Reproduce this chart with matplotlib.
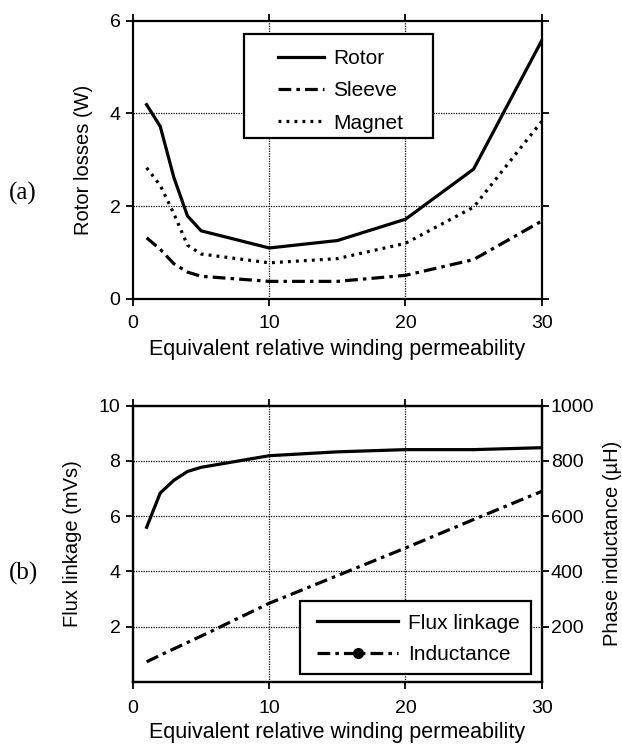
import matplotlib
matplotlib.use("Agg")
import matplotlib.pyplot as plt
from matplotlib.lines import Line2D
from matplotlib.patches import Rectangle

plt.rcParams['font.family'] = ['Liberation Sans', 'DejaVu Sans']

# ---- data ----
mu = [1, 2, 3, 4, 5, 10, 15, 20, 25, 30]
rotor = [4.19, 3.72, 2.62, 1.79, 1.47, 1.10, 1.26, 1.72, 2.80, 5.57]
sleeve = [1.32, 1.07, 0.76, 0.58, 0.49, 0.38, 0.38, 0.51, 0.85, 1.68]
magnet = [2.83, 2.45, 1.84, 1.16, 0.97, 0.78, 0.87, 1.20, 1.98, 3.83]
flux = [5.60, 6.84, 7.30, 7.62, 7.77, 8.19, 8.33, 8.41, 8.41, 8.48]
induct = [73, 97, 120, 143, 166, 285, 385, 485, 588, 690]

xticks = [0, 10, 20, 30]
yticks_a = [0, 2, 4, 6]
yticks_b = [2, 4, 6, 8, 10]
yticks_b2 = [200, 400, 600, 800, 1000]

TFS = 14     # tick labels
YFS = 14.5   # y labels
XFS = 15.5   # x labels
LFS = 15     # legend
fig = plt.figure(figsize=(6.22, 7.46), dpi=100)

W, H = 622, 746
def rect(l, r, t, b):
    return [l / W, 1 - b / H, (r - l) / W, (b - t) / H]

grid_kw = dict(color='black', linestyle=(0, (1, 1)), linewidth=0.9)
DASHDOT = (4, 1.6, 1.1, 1.6)

def style(ax):
    for s in ax.spines.values():
        s.set_linewidth(1.6)
    ax.tick_params(direction='out', length=5, width=1.3, labelsize=TFS,
                   top=True, right=True)
    ax.tick_params(axis='x', pad=6.7)
    ax.tick_params(axis='y', pad=4)

def boxed_legend(ax, handles, labels, box, anchor, loc, hl, hp, ls):
    x0, y0, x1, y1 = box
    ax.add_patch(Rectangle((x0, y0), x1 - x0, y1 - y0, transform=ax.transAxes,
                           facecolor='white', edgecolor='black', lw=1.6,
                           zorder=4, clip_on=False))
    leg = ax.legend(handles, labels, loc=loc, bbox_to_anchor=anchor,
                    fontsize=LFS, frameon=False, numpoints=1,
                    handlelength=hl, handletextpad=hp, labelspacing=ls,
                    borderpad=0, borderaxespad=0)
    leg.set_zorder(5)
    return leg

# ---- (a) ----
ax1 = fig.add_axes(rect(133, 541.7, 20.7, 299))
l_r, = ax1.plot(mu, rotor, color='black', lw=2.3)
l_s, = ax1.plot(mu, sleeve, color='black', lw=2.3, dashes=DASHDOT)
l_m, = ax1.plot(mu, magnet, color='black', lw=2.3, dashes=(0.9, 1.6))
ax1.set_xlim(0, 30)
ax1.set_ylim(0, 6)
ax1.set_xticks(xticks)
ax1.set_yticks(yticks_a)
style(ax1)
ax1.tick_params(labelright=False, labeltop=False)
for v in [10, 20]:
    ax1.axvline(v, **grid_kw, zorder=0.5)
for v in [2, 4]:
    ax1.axhline(v, **grid_kw, zorder=0.5)
ax1.set_ylabel('Rotor losses (W)', fontsize=YFS)
ax1.yaxis.label.set_va('center')
ax1.yaxis.set_label_coords(-0.120, 0.5)
ax1.set_xlabel('Equivalent relative winding permeability', fontsize=XFS, labelpad=5)
boxed_legend(ax1, [l_r, l_s, l_m], ['Rotor', 'Sleeve', 'Magnet'],
             box=(0.272, 0.577, 0.733, 0.951), anchor=(0.355, 0.7485),
             loc='center left', hl=2.2, hp=0.45, ls=0.64)
fig.text(23 / W, 1 - 193 / H, '(a)', fontsize=18, family='Liberation Serif',
         ha='center', va='center')

# ---- (b) ----
ax2 = fig.add_axes(rect(133, 541.7, 405.7, 682))
ax2.plot(mu, flux, color='black', lw=2.3)
ax2.set_xlim(0, 30)
ax2.set_ylim(0, 10)
ax2.set_xticks(xticks)
ax2.set_yticks(yticks_b)
style(ax2)
ax2.tick_params(labelright=False, labeltop=False, right=False)
ax2.tick_params(axis='x', pad=8)
for v in [10, 20]:
    ax2.axvline(v, **grid_kw, zorder=0.5)
for v in [2, 4, 6, 8]:
    ax2.axhline(v, **grid_kw, zorder=0.5)
ax2.set_ylabel('Flux linkage (mVs)', fontsize=YFS)
ax2.yaxis.label.set_va('center')
ax2.yaxis.set_label_coords(-0.149, 0.5)
ax2.set_xlabel('Equivalent relative winding permeability', fontsize=XFS, labelpad=3.5)

ax3 = ax2.twinx()
ax3.plot(mu, induct, color='black', lw=2.3, dashes=DASHDOT)
ax3.set_ylim(0, 1000)
ax3.set_yticks(yticks_b2)
ax3.tick_params(direction='out', length=5, width=1.3, labelsize=TFS, pad=1.5)
for s in ax3.spines.values():
    s.set_linewidth(1.6)
ax3.set_ylabel('Phase inductance (µH)', fontsize=YFS)
ax3.yaxis.label.set_va('center')
ax3.yaxis.set_label_coords(1.173, 0.5)

h1 = Line2D([], [], color='black', lw=2.3)
h2 = Line2D([], [], color='black', lw=2.3, dashes=DASHDOT, marker='o', markersize=7)
boxed_legend(ax3, [h1, h2], ['Flux linkage', 'Inductance'],
             box=(0.409, 0.029, 0.973, 0.292), anchor=(0.4514, 0.1556),
             loc='center left', hl=3.85, hp=0.5, ls=0.62)
fig.text(23 / W, 1 - 573 / H, '(b)', fontsize=18, family='Liberation Serif',
         ha='center', va='center')

fig.savefig('out.png', dpi=100)
